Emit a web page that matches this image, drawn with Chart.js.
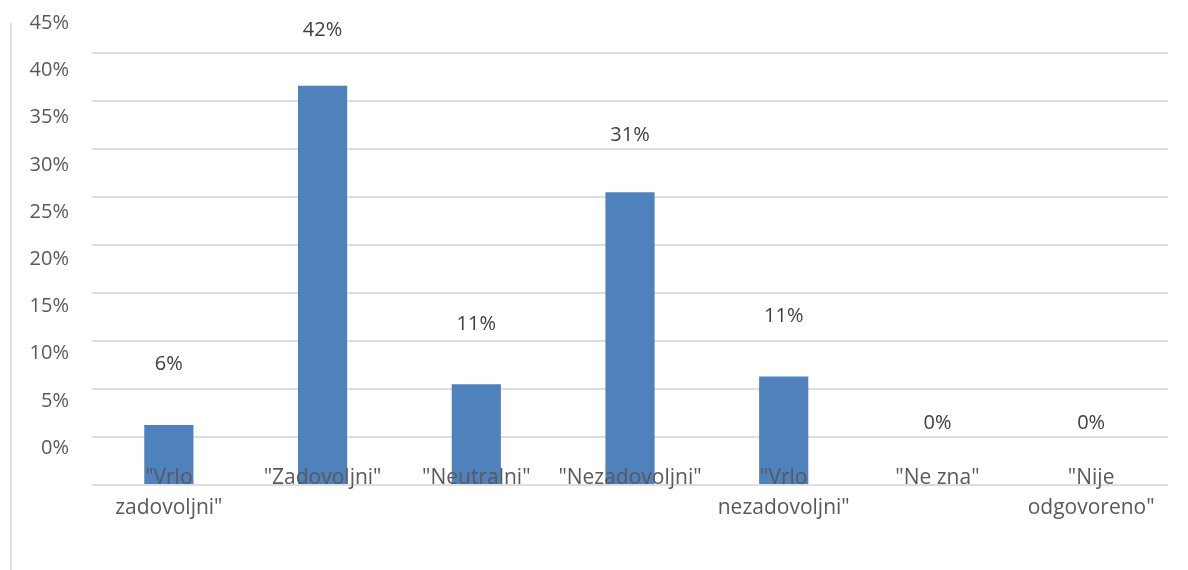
<!DOCTYPE html>
<html>
<head>
<meta charset="utf-8">
<script src="https://cdn.jsdelivr.net/npm/chart.js@4"></script>
<style>
  html, body { margin: 0; padding: 0; background: #fff; }
  .wrap { position: relative; width: 1188px; height: 570px; }
  .edge { position: absolute; left: 10px; top: 23px; height: 547px; border-left: 2px solid #dedede; }
</style>
</head>
<body>
<div class="wrap">
  <div class="edge"></div>
  <canvas id="myChart" width="1188" height="570"></canvas>
</div>
<script>
// chart values
let categories = [
    ['"Vrlo', 'zadovoljni"'],
    '"Zadovoljni"',
    '"Neutralni"',
    '"Nezadovoljni"',
    ['"Vrlo', 'nezadovoljni"'],
    '"Ne zna"',
    ['"Nije', 'odgovoreno"']
]
let shares = [6.25, 41.6, 10.5, 30.5, 11.3, 0, 0]
let tickValues = [0, 5, 10, 15, 20, 25, 30, 35, 40, 45]

let fontFamily = '"Open Sans", "Noto Sans", sans-serif'
let textFont = { family: fontFamily, size: 20 }

// value labels above the bars
const barLabels = {
    id: 'barLabels',
    afterDatasetsDraw(chart) {
        const ctx = chart.ctx;
        const meta = chart.getDatasetMeta(0);
        const yl = chart.scales.yl;
        ctx.save();
        ctx.font = '20px ' + fontFamily;
        ctx.fillStyle = '#404040';
        ctx.textAlign = 'center';
        ctx.textBaseline = 'middle';
        meta.data.forEach((bar, i) => {
            ctx.fillText(Math.round(shares[i]) + '%', bar.x, yl.getPixelForValue(shares[i] + 2.6));
        });
        ctx.restore();
    }
}

const ctx = document.getElementById('myChart').getContext('2d');
const myChart = new Chart(ctx, {
    type: 'bar',
    data: {
        labels: categories,
        datasets: [{
            data: shares,
            backgroundColor: '#4f81bd',
            categoryPercentage: 1,
            barPercentage: 0.32
        }]
    },
    options: {
        responsive: false,
        animation: false,
        layout: { padding: { top: 5, right: 20, bottom: 0, left: 0 } },
        plugins: { legend: { display: false }, tooltip: { enabled: false } },
        scales: {
            x: {
                grid: { display: false, drawTicks: false },
                border: { display: false },
                ticks: {
                    z: 1,
                    font: { family: fontFamily, size: 21, lineHeight: 1.45 },
                    color: '#595959',
                    mirror: true,
                    padding: -8,
                    maxRotation: 0,
                    autoSkip: false
                },
                afterFit: (scale) => { scale.height = 85; }
            },
            y: {
                min: 0,
                max: 50,
                ticks: { display: false, stepSize: 5 },
                border: { display: false },
                grid: {
                    drawTicks: false,
                    lineWidth: 2,
                    color: (c) => c.tick && c.tick.value >= 50 ? 'rgba(0,0,0,0)' : '#dedede'
                },
                afterFit: (scale) => { scale.width = 0; scale.paddingTop = 0; scale.paddingBottom = 0; }
            },
            yl: {
                position: 'left',
                min: -3.92,
                max: 46.93,
                grid: { display: false, drawTicks: false },
                border: { display: false },
                ticks: { font: textFont, color: '#595959', padding: 23, callback: (v) => v + '%' },
                afterBuildTicks: (scale) => { scale.ticks = tickValues.map(v => ({ value: v })); },
                afterFit: (scale) => { scale.width = 92; scale.paddingTop = 0; scale.paddingBottom = 0; }
            }
        }
    },
    plugins: [barLabels]
});
</script>
</body>
</html>
